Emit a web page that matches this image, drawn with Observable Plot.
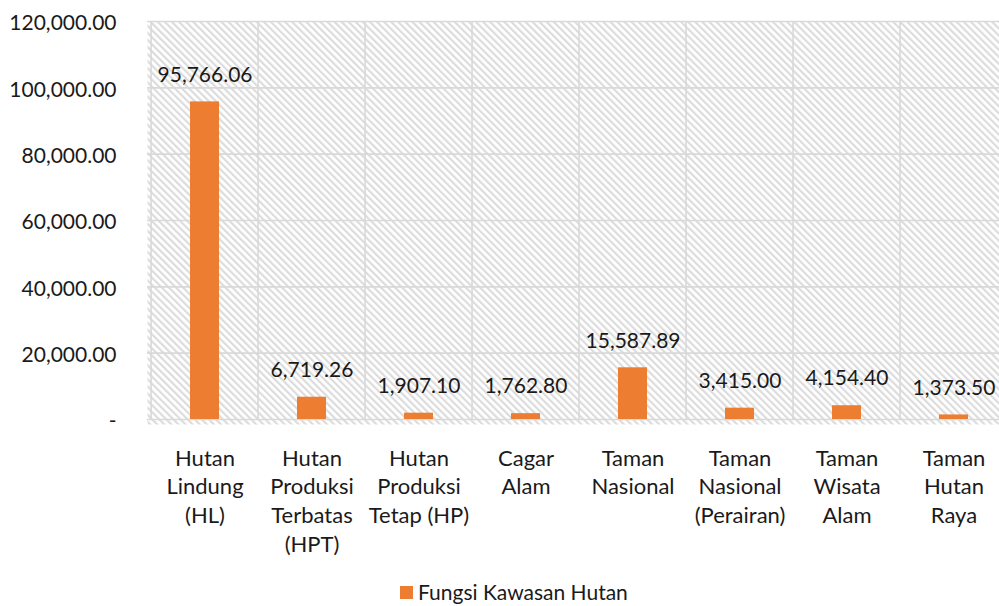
<!DOCTYPE html>
<html><head><meta charset="utf-8">
<script src="https://cdn.jsdelivr.net/npm/d3@7"></script>
<script src="https://cdn.jsdelivr.net/npm/@observablehq/plot@0.6"></script>
<style>
html,body{margin:0;padding:0;background:#fff;overflow:hidden;width:999px;height:606px;}
#chart{position:absolute;left:0;top:0;}
#legend{position:absolute;left:400px;top:580px;height:24px;line-height:24px;display:flex;align-items:center;font-family:Lato,sans-serif;font-size:21px;color:#1a1a1a;white-space:nowrap;}
#legend .sw{width:13px;height:13px;background:#ED7D31;margin-right:5px;}
</style></head><body>
<div id="chart"></div>
<div id="legend"><span class="sw"></span><span id="legtext"></span></div>
<script>
const categories = ["Hutan\nLindung\n(HL)", "Hutan\nProduksi\nTerbatas\n(HPT)", "Hutan\nProduksi\nTetap (HP)", "Cagar\nAlam", "Taman\nNasional", "Taman\nNasional\n(Perairan)", "Taman\nWisata\nAlam", "Taman\nHutan\nRaya"];
const values = [95766.06, 6719.26, 1907.10, 1762.80, 15587.89, 3415.00, 4154.40, 1373.50];
const yTicks = [0, 20000, 40000, 60000, 80000, 100000, 120000];
const seriesName = "Fungsi Kawasan Hutan";

const data = categories.map((c, i) => ({category: c, value: values[i]}));
const fmt = d3.format(",.2f");
const W = 999, H = 578;
const left = 147, step = 107.9;
const grid = "#d9d9d9";

const plot = Plot.plot({
  width: W, height: H,
  marginLeft: left, marginRight: 0, marginTop: 21, marginBottom: H - 419,
  style: {fontFamily: "Lato, sans-serif", fontSize: "20px", color: "#1a1a1a", background: "transparent", overflow: "hidden"},
  x: {domain: categories, range: [left, left + categories.length * step], padding: 0, label: null},
  y: {domain: [0, 120000], range: [419, 21], label: null},
  marks: [
    Plot.frame({fill: "url(#hatch)", stroke: null, insetBottom: -5}),
    Plot.gridY(yTicks, {stroke: grid, strokeWidth: 1.6, strokeOpacity: 1}),
    Plot.ruleX(categories, {x: d => d, dx: -step / 2, y1: 0, y2: 120000, stroke: grid, strokeWidth: 1.6}),
    Plot.barY(data, {x: "category", y: "value", fill: "#ED7D31", insetLeft: 39, insetRight: 39}),
    Plot.text(data, {x: "category", y: "value", text: d => fmt(d.value), dy: -27, fontSize: 21, fill: "#1a1a1a"}),
    Plot.axisY(yTicks, {tickSize: 0, tickPadding: 31, fontSize: 21, dy: 2, label: null, tickFormat: d => d === 0 ? "-" : fmt(d)}),
    Plot.axisX({tickSize: 0, tickPadding: 26, fontSize: 22, lineHeight: 1.3, label: null, tickFormat: d => d})
  ]
});

const svg = d3.select(plot);
const defs = svg.insert("defs", ":first-child");
const pat = defs.append("pattern").attr("id", "hatch").attr("patternUnits", "userSpaceOnUse")
  .attr("width", 5).attr("height", 5).attr("patternTransform", "rotate(-45)");
pat.append("rect").attr("width", 5).attr("height", 5).attr("fill", "#fff");
pat.append("rect").attr("x", 0).attr("y", 0).attr("width", 2.2).attr("height", 5).attr("fill", "#dcdcdc");

document.getElementById("chart").appendChild(plot);
document.getElementById("legtext").textContent = seriesName;
</script>
</body></html>
